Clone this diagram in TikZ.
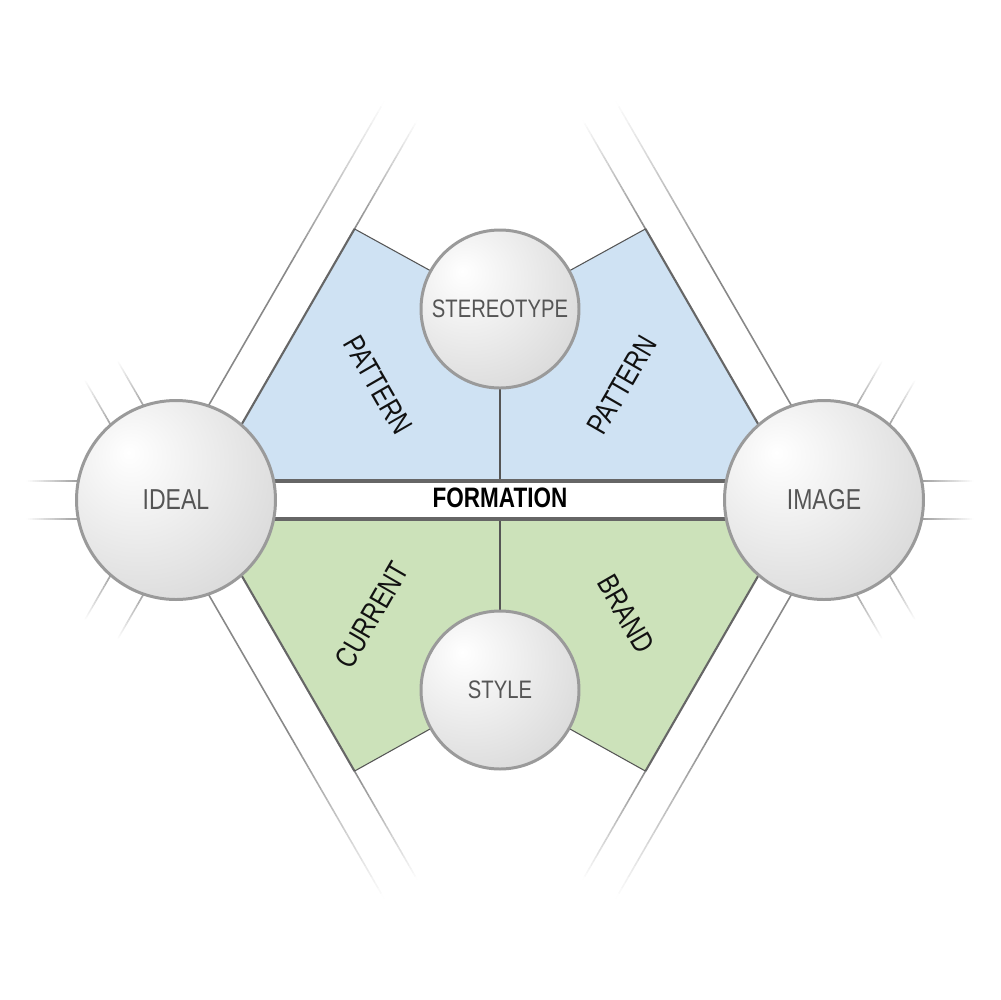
\documentclass[tikz,border=0pt]{standalone}
\usepackage{fontspec}
\setmainfont{Liberation Sans}[FakeStretch=0.8]
\usetikzlibrary{calc}
\definecolor{blueF}{HTML}{CFE2F3}
\definecolor{greenF}{HTML}{CCE2BA}
\definecolor{edgeD}{HTML}{666666}
\definecolor{lineG}{HTML}{888888}
\definecolor{stubG}{HTML}{999999}
\definecolor{ringG}{HTML}{9A9A9A}
\definecolor{sphMid}{HTML}{DEDEDE}
\definecolor{sphEdge}{HTML}{BBBBBB}
\definecolor{txtG}{HTML}{555555}
\definecolor{txtK}{HTML}{111111}
\pgfdeclareradialshading{sph}{\pgfpoint{-12bp}{12bp}}{color(0bp)=(white); color(33bp)=(sphMid); color(67bp)=(sphEdge); color(100bp)=(sphEdge)}
% #1 from, #2 fade start, #3 end, #4 width, #5 colour
\newcommand\fadeline[5]{%
  \draw[line width=#4, #5] (#1) -- (#2);
  \foreach \k in {0,...,29}{%
    \pgfmathsetmacro\fa{\k/30}%
    \pgfmathsetmacro\fb{(\k+1)/30}%
    \pgfmathtruncatemacro\pc{100-(\k+0.5)*100/30}%
    \draw[line width=#4, color=#5!\pc!white] ($(#2)!\fa!(#3)$) -- ($(#2)!\fb!(#3)$);
  }}
\tikzset{
  sphere/.style={circle, draw=ringG, line width=0.85pt, shade, shading=sph, inner sep=0pt, text=txtG},
  bigsph/.style={sphere, minimum size=19.9mm, font=\fontsize{8.2}{10}\selectfont},
  smallsph/.style={sphere, minimum size=15.8mm, font=\fontsize{7.2}{9}\selectfont},
  lbl/.style={text=txtK, inner sep=0pt, font=\fontsize{8.5}{10}\selectfont},
  bandline/.style={edgeD, line width=0.95pt},
  regionedge/.style={edgeD, line width=0.6pt},
  thinedge/.style={txtG, line width=0.3pt}
}
\begin{document}
\begin{tikzpicture}[x=0.1mm, y=-0.1mm]
\useasboundingbox (0,0) rectangle (1000,1000);
% key points
\coordinate (A) at (176,500);
\coordinate (B) at (824,500);
\coordinate (S) at (500,309);
\coordinate (T) at (500,690);
\coordinate (cUL) at (354.5,228.9);
\coordinate (cUR) at (645.5,228.9);
\coordinate (cLL) at (354.5,771.1);
\coordinate (cLR) at (645.5,771.1);
\coordinate (bUL) at (208.9,481);
\coordinate (bUR) at (791.1,481);
\coordinate (bLL) at (208.9,519);
\coordinate (bLR) at (791.1,519);
% regions
\fill[blueF] (bUL) -- (cUL) -- (S) -- (cUR) -- (bUR) -- cycle;
\fill[greenF] (bLL) -- (cLL) -- (T) -- (cLR) -- (bLR) -- cycle;
% long bands: outer edges
\coordinate (o1a) at (159.5,490.5); \coordinate (o1b) at (289.5,265.3); \coordinate (o1c) at (384.5,100.8);
\coordinate (o2a) at (840.5,490.5); \coordinate (o2b) at (710.5,265.3); \coordinate (o2c) at (615.5,100.8);
\coordinate (o3a) at (159.5,509.5); \coordinate (o3b) at (289.5,734.7); \coordinate (o3c) at (384.5,899.2);
\coordinate (o4a) at (840.5,509.5); \coordinate (o4b) at (710.5,734.7); \coordinate (o4c) at (615.5,899.2);
\fadeline{o1a}{o1b}{o1c}{0.45pt}{lineG}
\fadeline{o2a}{o2b}{o2c}{0.45pt}{lineG}
\fadeline{o3a}{o3b}{o3c}{0.45pt}{lineG}
\fadeline{o4a}{o4b}{o4c}{0.45pt}{lineG}
% long bands: inner edges beyond the corners
\coordinate (i1c) at (417.5,119.8);
\coordinate (i2c) at (582.5,119.8);
\coordinate (i3c) at (417.5,880.2);
\coordinate (i4c) at (582.5,880.2);
\fadeline{cUL}{cUL}{i1c}{0.45pt}{lineG}
\fadeline{cUR}{cUR}{i2c}{0.45pt}{lineG}
\fadeline{cLL}{cLL}{i3c}{0.45pt}{lineG}
\fadeline{cLR}{cLR}{i4c}{0.45pt}{lineG}
% region edges
\coordinate (i1a) at (192.5,509.5);
\coordinate (i2a) at (807.5,509.5);
\coordinate (i3a) at (192.5,490.5);
\coordinate (i4a) at (807.5,490.5);
\draw[regionedge] (i1a) -- (cUL);
\draw[regionedge] (i2a) -- (cUR);
\draw[regionedge] (i3a) -- (cLL);
\draw[regionedge] (i4a) -- (cLR);
\draw[thinedge] (cUL) -- (S) -- (cUR);
\draw[thinedge] (cLL) -- (T) -- (cLR);
\coordinate (fu) at (500,481);
\coordinate (fd) at (500,519);
\draw[thinedge] (S) -- (fu);
\draw[thinedge] (T) -- (fd);
% stubs
\coordinate (sa1) at (81,481); \coordinate (sa1e) at (26,481);
\coordinate (sa2) at (81,519); \coordinate (sa2e) at (26,519);
\coordinate (sa3) at (144.95,408.2); \coordinate (sa3e) at (117.45,360.6);
\coordinate (sa4) at (112.05,427.2); \coordinate (sa4e) at (84.55,379.6);
\coordinate (sa5) at (144.95,591.8); \coordinate (sa5e) at (117.45,639.4);
\coordinate (sa6) at (112.05,572.8); \coordinate (sa6e) at (84.55,620.4);
\coordinate (sb1) at (919,481); \coordinate (sb1e) at (974,481);
\coordinate (sb2) at (919,519); \coordinate (sb2e) at (974,519);
\coordinate (sb3) at (855.05,408.2); \coordinate (sb3e) at (882.55,360.6);
\coordinate (sb4) at (887.95,427.2); \coordinate (sb4e) at (915.45,379.6);
\coordinate (sb5) at (855.05,591.8); \coordinate (sb5e) at (882.55,639.4);
\coordinate (sb6) at (887.95,572.8); \coordinate (sb6e) at (915.45,620.4);
\foreach \n in {sa1,sa2,sa3,sa4,sa5,sa6,sb1,sb2,sb3,sb4,sb5,sb6}{
  \fadeline{\n}{\n}{\n e}{0.45pt}{stubG}
}
% formation band
\coordinate (fl1) at (176,481); \coordinate (fr1) at (824,481);
\coordinate (fl2) at (176,519); \coordinate (fr2) at (824,519);
\draw[bandline] (fl1) -- (fr1);
\draw[bandline] (fl2) -- (fr2);
\node[text=black, inner sep=0pt, font=\fontsize{8}{10}\selectfont\bfseries] (form) at (500,498) {FORMATION};
% spheres
\node[bigsph] (ideal) at (A) {IDEAL};
\node[bigsph] (image) at (B) {IMAGE};
\node[smallsph] (stereo) at (S) {STEREOTYPE};
\node[smallsph] (style) at (T) {STYLE};
% labels
\node[lbl, rotate=-60] (pat1) at (378,385) {PATTERN};
\node[lbl, rotate=60] (pat2) at (622,385) {PATTERN};
\node[lbl, rotate=60] (cur) at (372,615) {CURRENT};
\node[lbl, rotate=-60] (brand) at (626,614) {BRAND};
\end{tikzpicture}
\end{document}
